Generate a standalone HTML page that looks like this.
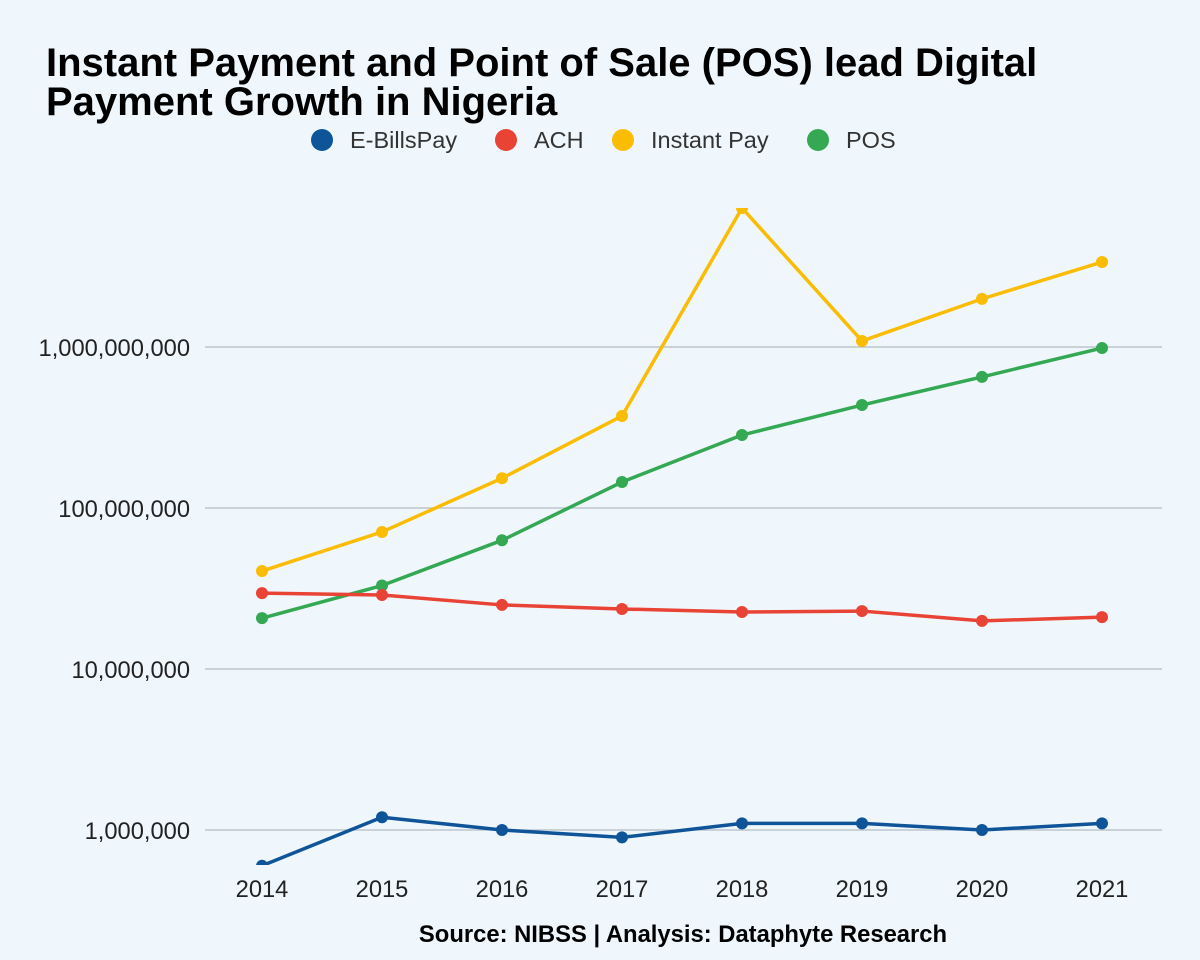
<!DOCTYPE html>
<html><head><meta charset="utf-8">
<style>
body{margin:0;background:#eff7fd;}
svg{display:block;font-family:"Liberation Sans",Arial,sans-serif;}
</style></head>
<body>
<svg id="chart" width="1200" height="960" viewBox="0 0 1200 960">
<rect width="1200" height="960" fill="#eff7fd"/>
<text x="46" y="76" font-size="40" font-weight="bold" fill="#000">Instant Payment and Point of Sale (POS) lead Digital</text>
<text x="46" y="115" font-size="40" font-weight="bold" fill="#000">Payment Growth in Nigeria</text>
<g id="legend"></g>
<defs><clipPath id="plotclip"><rect x="200" y="208" width="970" height="657"/></clipPath></defs>
<g id="grid"></g>
<g id="yticks"></g>
<g id="xticks"></g>
<g id="series" clip-path="url(#plotclip)"></g>
<text x="683" y="942" font-size="23.8" font-weight="bold" text-anchor="middle" fill="#000">Source: NIBSS | Analysis: Dataphyte Research</text>
</svg>
<script>
const years = [2014,2015,2016,2017,2018,2019,2020,2021];
const eBillsPay = [600000,1200000,1000000,900000,1100000,1100000,1000000,1100000];
const ach = [29600000,28800000,25000000,23600000,22600000,22900000,19900000,21000000];
const instantPay = [40600000,71000000,153000000,373000000,7300000000,1090000000,1990000000,3370000000];
const pos = [20700000,33000000,63000000,145000000,284000000,436000000,652000000,985000000];
const tickValues = [1000000,10000000,100000000,1000000000];
const tickLabels = ["1,000,000","10,000,000","100,000,000","1,000,000,000"];
const seriesNames = ["E-BillsPay","ACH","Instant Pay","POS"];
const seriesColors = ["#0f5499","#e94335","#fbbc04","#34a853"];

const NS="http://www.w3.org/2000/svg";
function xScale(i){return 262 + i*120;}
function yScale(v){return 830 - 161*Math.log10(v/1e6);}
function mk(tag,attrs,parent){const e=document.createElementNS(NS,tag);for(const k in attrs)e.setAttribute(k,attrs[k]);parent.appendChild(e);return e;}

const grid=document.getElementById('grid'), yt=document.getElementById('yticks'), xt=document.getElementById('xticks');
tickValues.forEach((v,i)=>{
  const y=yScale(v);
  const l=mk('line',{x1:205,x2:1162,y1:y,y2:y,stroke:'#b4bcc4','stroke-width':1.3},grid);
  
  
  const t=mk('text',{x:190,y:y+9,'font-size':23.7,'text-anchor':'end',fill:'#222'},yt);
  t.textContent=tickLabels[i];
  
  
});
years.forEach((yr,i)=>{
  const t=mk('text',{x:xScale(i),y:897,'font-size':23.7,'text-anchor':'middle',fill:'#222'},xt);
  t.textContent=yr;
  
  
});

const data=[eBillsPay,ach,instantPay,pos];
const sg=document.getElementById('series');
[2,3,1,0].forEach(si=>{
  const vals=data[si];
  const g=mk('g',{},sg);
  
  
  const pts=vals.map((v,i)=>xScale(i)+','+yScale(v)).join(' ');
  const pl=mk('polyline',{points:pts,fill:'none',stroke:seriesColors[si],'stroke-width':3.5,'stroke-linejoin':'round'},g);
  
  
  vals.forEach((v,i)=>{
    const c=mk('circle',{cx:xScale(i),cy:yScale(v),r:6,fill:seriesColors[si]},g);
    
    
  });
});

const lg=document.getElementById('legend');
const lx=[322,506,623,818];
seriesNames.forEach((n,i)=>{
  const g=mk('g',{},lg);
  
  
  mk('circle',{cx:lx[i],cy:140,r:11,fill:seriesColors[i]},g);
  const t=mk('text',{x:lx[i]+28,y:148,'font-size':23.5,fill:'#333'},g);
  t.textContent=n;
});
</script>
</body></html>
